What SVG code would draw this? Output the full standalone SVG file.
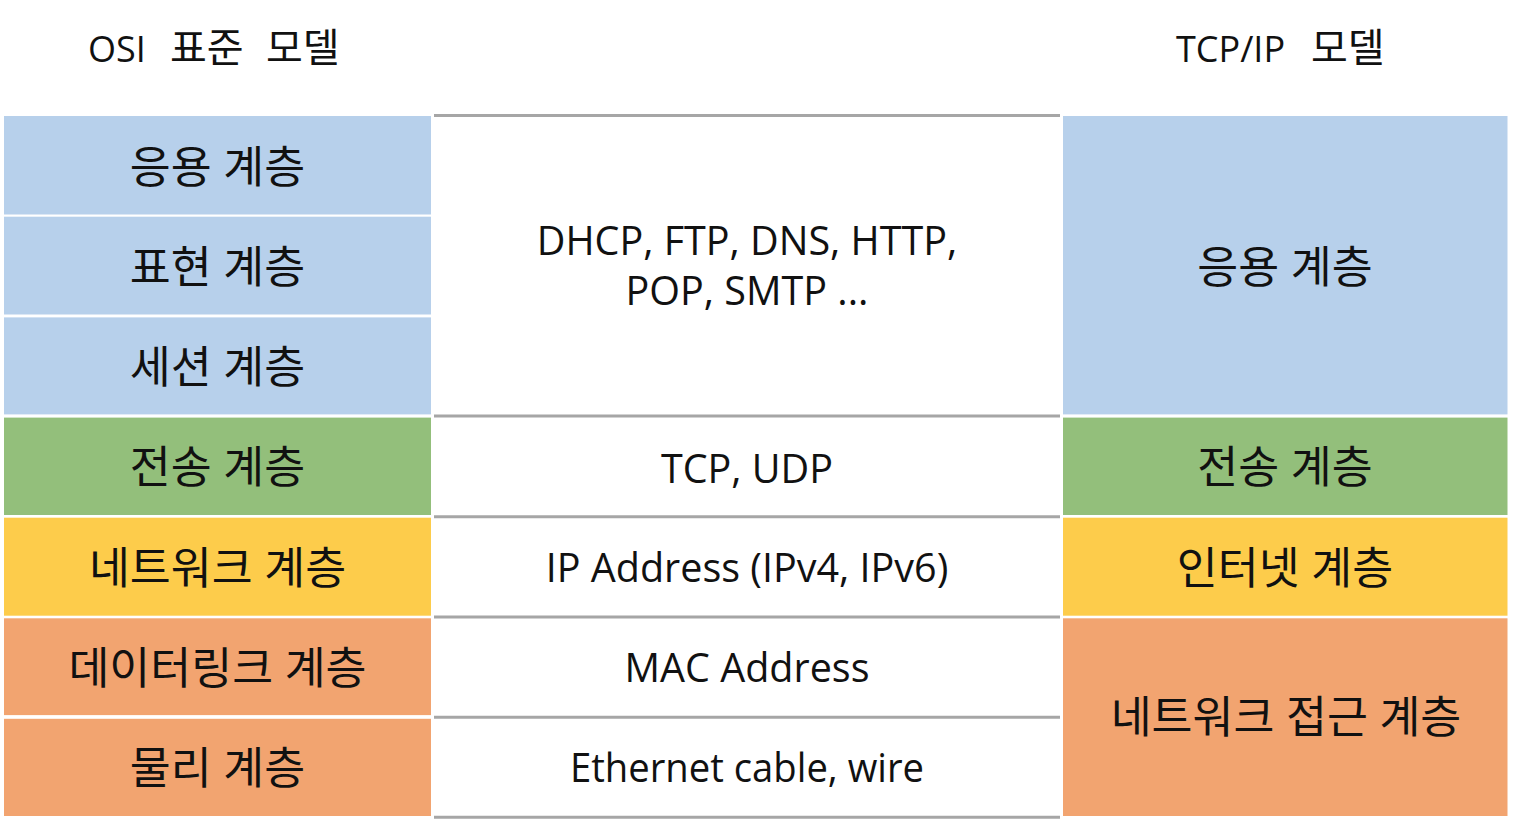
<svg xmlns="http://www.w3.org/2000/svg" width="1514" height="820" viewBox="0 0 1514 820">
<style>
text{font-family:"Open Sans","Noto Sans CJK KR",sans-serif;fill:#111;}
.h{font-size:36px;text-anchor:start;}
.hk{font-size:40px;}
.t{font-size:39.5px;text-anchor:middle;}
.k{font-size:44.5px;text-anchor:middle;}
.blue{fill:#b7d0eb;}
.green{fill:#93bf7b;}
.yellow{fill:#fdcc4b;}
.orange{fill:#f2a470;}
.div{stroke:#a6a6a6;stroke-width:3;fill:none;}
</style>
<rect width="1514" height="820" fill="#fff"/>
<g id="header-osi"><text class="h" y="62"><tspan x="88">OSI</tspan><tspan class="hk" x="170">표준</tspan><tspan class="hk" x="266">모델</tspan></text></g>
<g id="header-tcpip"><text class="h" y="62"><tspan x="1176">TCP/IP</tspan><tspan class="hk" x="1311">모델</tspan></text></g>

<g id="osi-application"><rect class="blue" x="4" y="116" width="427" height="98.5"/><text class="k" x="217.5" y="182.5">응용 계층</text></g>
<g id="osi-presentation"><rect class="blue" x="4" y="216.7" width="427" height="97.8"/><text class="k" x="217.5" y="282.5">표현 계층</text></g>
<g id="osi-session"><rect class="blue" x="4" y="317.4" width="427" height="97"/><text class="k" x="217.5" y="382.5">세션 계층</text></g>
<g id="osi-transport"><rect class="green" x="4" y="417.6" width="427" height="97.4"/><text class="k" x="217.5" y="482.5">전송 계층</text></g>
<g id="osi-network"><rect class="yellow" x="4" y="517.7" width="427" height="98"/><text class="k" x="217.5" y="583.5">네트워크 계층</text></g>
<g id="osi-datalink"><rect class="orange" x="4" y="618.3" width="427" height="96.8"/><text class="k" x="217.5" y="683.5">데이터링크 계층</text></g>
<g id="osi-physical"><rect class="orange" x="4" y="718.8" width="427" height="97.2"/><text class="k" x="217.5" y="783.5">물리 계층</text></g>

<g id="connectors">
<line class="div" x1="434" y1="115.5" x2="1060" y2="115.5"/>
<line class="div" x1="434" y1="416" x2="1060" y2="416"/>
<line class="div" x1="434" y1="516.7" x2="1060" y2="516.7"/>
<line class="div" x1="434" y1="617" x2="1060" y2="617"/>
<line class="div" x1="434" y1="717.3" x2="1060" y2="717.3"/>
<line class="div" x1="434" y1="817.3" x2="1060" y2="817.3"/>
</g>

<g id="proto-app"><text class="t" x="747" y="255">DHCP, FTP, DNS, HTTP,</text><text class="t" x="747" y="305">POP, SMTP ...</text></g>
<g id="proto-transport"><text class="t" x="747" y="483">TCP, UDP</text></g>
<g id="proto-network"><text class="t" x="747" y="582">IP Address (IPv4, IPv6)</text></g>
<g id="proto-datalink"><text class="t" x="747" y="682">MAC Address</text></g>
<g id="proto-physical"><text class="t" x="747" y="782" textLength="354" lengthAdjust="spacingAndGlyphs">Ethernet cable, wire</text></g>

<g id="tcp-application"><rect class="blue" x="1063" y="116" width="444.5" height="298.4"/><text class="k" x="1285" y="282.5">응용 계층</text></g>
<g id="tcp-transport"><rect class="green" x="1063" y="417.6" width="444.5" height="97.4"/><text class="k" x="1285" y="482.5">전송 계층</text></g>
<g id="tcp-internet"><rect class="yellow" x="1063" y="517.7" width="444.5" height="98"/><text class="k" x="1285" y="583.5">인터넷 계층</text></g>
<g id="tcp-netaccess"><rect class="orange" x="1063" y="618.3" width="444.5" height="197.7"/><text class="k" x="1286" y="732.5">네트워크 접근 계층</text></g>
</svg>
